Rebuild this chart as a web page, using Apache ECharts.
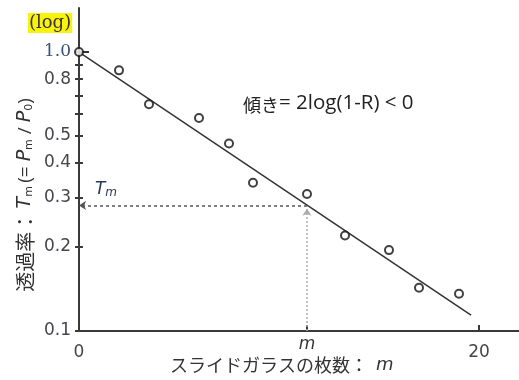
<!DOCTYPE html>
<html>
<head>
<meta charset="utf-8">
<script src="https://cdn.jsdelivr.net/npm/echarts@6/dist/echarts.min.js"></script>
<style>
  html, body { margin: 0; padding: 0; background: #fff; }
  #chart { width: 519px; height: 380px; }
</style>
</head>
<body>
<div id="chart"></div>
<script>
// Transmittance T_m measured against the number of stacked glass slides m
const slideCounts   = [0, 2, 3.5, 6, 7.5, 8.7, 11.4, 13.3, 15.5, 17, 19];
const transmittance = [1.0, 0.86, 0.65, 0.58, 0.47, 0.34, 0.31, 0.22, 0.195, 0.143, 0.136];

// Straight-line fit on the log scale (start / end)
const fitSlides = [0, 19.6];
const fitValues = [1.0, 0.114];

// Reading of T_m at m slides
const mSlides = 11.4;
const tmValue = 0.282;

// Axis ticks and labels
const yTickValues  = [0.1, 0.2, 0.3, 0.4, 0.5, 0.6, 0.7, 0.8, 0.9, 1.0];
const yLabelValues = [0.1, 0.2, 0.3, 0.4, 0.5, 0.8, 1.0];
const xLabelValues = [0, 20];
const xTickValues  = [mSlides, 20];

const lg = v => Math.log10(v);
const AXIS = '#3a3a3a';
const LABEL = '#45454d';

const chart = echarts.init(document.getElementById('chart'));

const yCommon = {
  type: 'value',
  min: -1,
  max: 0.158,
  splitLine: { show: false },
  axisLine: { show: false }
};

chart.setOption({
  animation: false,
  grid: { left: 79, right: 0, top: 8, bottom: 49, containLabel: false, outerBoundsMode: 'none' },
  xAxis: [
    {
      type: 'value', min: 0, max: 22,
      splitLine: { show: false },
      axisLine: { show: true, onZero: false, lineStyle: { color: AXIS, width: 2 } },
      axisTick: { show: true, inside: true, length: 6, customValues: xTickValues, lineStyle: { color: AXIS, width: 2 } },
      axisLabel: {
        customValues: xLabelValues, margin: 13,
        fontFamily: 'DejaVu Sans', fontSize: 17, color: LABEL
      }
    },
    {
      type: 'value', min: 0, max: 22, position: 'bottom',
      splitLine: { show: false },
      axisLine: { show: false },
      axisTick: { show: false },
      axisLabel: {
        customValues: [mSlides], margin: 5,
        formatter: () => 'm',
        fontFamily: 'DejaVu Sans', fontStyle: 'italic', fontSize: 17, color: '#333'
      }
    }
  ],
  yAxis: [
    Object.assign({}, yCommon, {
      axisLine: { show: true, onZero: false, lineStyle: { color: AXIS, width: 2 } },
      axisTick: { show: true, length: 4, customValues: yTickValues.map(lg), lineStyle: { color: AXIS, width: 2 } },
      axisLabel: {
        customValues: yLabelValues.map(lg), margin: 8,
        fontFamily: 'DejaVu Sans', fontSize: 17, color: LABEL,
        formatter: v => {
          const t = Math.pow(10, v).toFixed(1);
          return t === '1.0' ? '{one|' + t + '}' : t;
        },
        rich: { one: { fontFamily: 'DejaVu Serif', fontSize: 17, color: '#34507a' } }
      }
    }),
    Object.assign({}, yCommon, {
      position: 'left',
      axisTick: { show: true, inside: true, length: 4, customValues: yTickValues.map(lg), lineStyle: { color: AXIS, width: 2 } },
      axisLabel: { show: false }
    })
  ],
  series: [
    {
      // fitted line
      type: 'line',
      data: fitSlides.map((x, i) => [x, lg(fitValues[i])]),
      showSymbol: false,
      lineStyle: { color: '#333', width: 1.5 },
      z: 3
    },
    {
      // guide lines reading T_m at m
      type: 'line',
      data: [],
      markLine: {
        silent: true,
        animation: false,
        label: { show: false },
        data: [
          [
            { coord: [mSlides, lg(tmValue)], symbol: 'none', lineStyle: { type: [3, 3], color: '#555', width: 1.5 } },
            { coord: [0, lg(tmValue)], symbol: 'arrow', symbolSize: 7 }
          ],
          [
            { coord: [mSlides, -1], symbol: 'none', lineStyle: { type: [2, 2], color: '#aaa', width: 1.5 } },
            { coord: [mSlides, lg(tmValue) - 0.012], symbol: 'arrow', symbolSize: 7 }
          ],
          [
            { coord: [0, 0], symbol: 'none', lineStyle: { type: 'solid', color: '#333', width: 2 } },
            { coord: [0.5, 0], symbol: 'none' }
          ]
        ]
      },
      markPoint: {
        silent: true,
        symbol: 'circle',
        symbolSize: 0,
        data: [{ coord: [0, lg(tmValue)] }],
        label: {
          show: true,
          position: 'inside',
          offset: [27, -17],
          formatter: '{t|T}{s|m}',
          rich: {
            t: { fontFamily: 'DejaVu Sans', fontStyle: 'italic', fontSize: 17, color: '#2b3a58', verticalAlign: 'bottom', lineHeight: 20 },
            s: { fontFamily: 'DejaVu Sans', fontStyle: 'italic', fontSize: 12, color: '#2b3a58', verticalAlign: 'bottom', lineHeight: 14 }
          }
        }
      }
    },
    {
      // measured points
      type: 'scatter',
      data: slideCounts.map((x, i) => [x, lg(transmittance[i])]),
      symbol: 'circle',
      symbolSize: 8,
      clip: false,
      itemStyle: { color: '#fff', borderColor: '#111', borderWidth: 2 },
      z: 5
    }
  ],
  graphic: [
    {
      type: 'text',
      left: 28, top: 13,
      style: {
        text: '(log)',
        font: '18px "DejaVu Serif"',
        fill: '#3a3040',
        backgroundColor: '#f7f30a',
        padding: [1, 1, 1, 1]
      }
    },
    {
      type: 'text',
      left: 243, top: 93,
      style: {
        text: '{k|傾き}{l|= 2log(1-R) < 0}',
        rich: {
          k: { fontFamily: 'Noto Sans CJK JP', fontSize: 18, fill: '#222', verticalAlign: 'bottom', lineHeight: 26 },
          l: { fontFamily: 'Open Sans', fontSize: 20.5, fill: '#222', verticalAlign: 'bottom', lineHeight: 26 }
        }
      }
    },
    {
      type: 'text',
      left: 170, top: 356,
      style: {
        text: 'スライドガラスの枚数：  {i|m}',
        font: '18px "Noto Sans CJK JP"',
        fill: '#333',
        rich: { i: { fontFamily: 'DejaVu Sans', fontStyle: 'italic', fontSize: 18, fill: '#333' } }
      }
    },
    {
      type: 'text',
      x: 24, y: 195,
      rotation: Math.PI / 2,
      style: {
        text: '{k|透過率：} {i|T}{s|m} {l|(= }{i|P}{s|m}{l| / }{i|P}{s|0}{l|)}',
        fill: '#333',
        align: 'center',
        verticalAlign: 'middle',
        rich: {
          k: { fontFamily: 'Noto Sans CJK JP', fontSize: 20, fill: '#333', verticalAlign: 'bottom', lineHeight: 22 },
          l: { fontFamily: 'Open Sans', fontSize: 19, fill: '#333', verticalAlign: 'bottom', lineHeight: 22 },
          i: { fontFamily: 'DejaVu Sans', fontStyle: 'italic', fontSize: 19, fill: '#333', verticalAlign: 'bottom', lineHeight: 22 },
          s: { fontFamily: 'DejaVu Sans', fontSize: 11, fill: '#333', verticalAlign: 'bottom', lineHeight: 16 }
        }
      }
    }
  ]
});
</script>
</body>
</html>
